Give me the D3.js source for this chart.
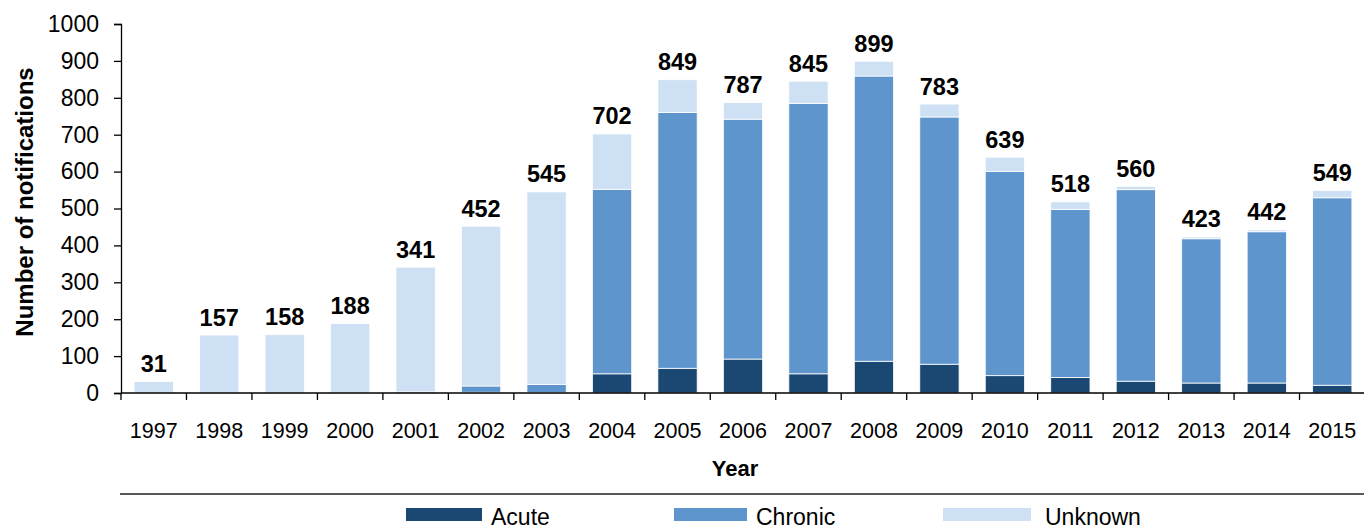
<!DOCTYPE html>
<html>
<head>
<meta charset="utf-8">
<script src="https://cdn.jsdelivr.net/npm/d3@7"></script>
<style>
  html, body { margin: 0; padding: 0; background: #fff; }
  svg { display: block; font-family: "Liberation Sans", Arial, sans-serif; }
</style>
</head>
<body>
<svg id="chart" width="1364" height="532"></svg>
<script>
// Notifications per year, split by case type
const years = ["1997","1998","1999","2000","2001","2002","2003","2004","2005","2006",
               "2007","2008","2009","2010","2011","2012","2013","2014","2015"];
const acute   = [0, 0, 0, 0, 3, 2, 1, 52, 67, 92, 52, 86, 78, 47, 42, 32, 27, 27, 21];
const chronic = [0, 0, 0, 0, 0, 17, 22, 500, 693, 650, 733, 773, 670, 553, 455, 519, 391, 410, 508];
const unknown = [31, 157, 158, 188, 338, 433, 522, 150, 89, 45, 60, 40, 35, 39, 21, 9, 5, 5, 20];
const totals  = [31, 157, 158, 188, 341, 452, 545, 702, 849, 787, 845, 899, 783, 639, 518, 560, 423, 442, 549];

const seriesNames = ["Acute", "Chronic", "Unknown"];
const yTicks = [0, 100, 200, 300, 400, 500, 600, 700, 800, 900, 1000];
const colors = { Acute: "#1b4872", Chronic: "#5f95cd", Unknown: "#cee0f4" };

const svg = d3.select("#chart");
const plot = { left: 121, right: 1365, top: 24, bottom: 393 };

const x = d3.scaleBand().domain(years).range([plot.left, plot.right])
  .paddingInner(0.4).paddingOuter(0.2);
const y = d3.scaleLinear().domain([0, 1000]).range([plot.bottom, plot.top]);

const rows = years.map((yr, i) => ({ year: yr, Acute: acute[i], Chronic: chronic[i], Unknown: unknown[i] }));
const stacked = d3.stack().keys(seriesNames)(rows);

// stacked bars
svg.append("g").selectAll("g").data(stacked).join("g")
  .attr("fill", d => colors[d.key])
  .selectAll("rect").data(d => d.filter(p => p[1] - p[0] > 0)).join("rect")
  .attr("x", d => x(d.data.year))
  .attr("width", x.bandwidth())
  .attr("y", d => y(d[1]))
  .attr("height", d => y(d[0]) - y(d[1]))
  .attr("stroke", "#ffffff")
  .attr("stroke-width", 0.8);

// total labels above each bar
svg.append("g").selectAll("text").data(years).join("text")
  .attr("x", d => x(d) + x.bandwidth() / 2)
  .attr("y", (d, i) => y(totals[i]) - 9.5)
  .attr("text-anchor", "middle")
  .attr("font-size", 23.5)
  .attr("font-weight", "bold")
  .attr("fill", "#000")
  .text((d, i) => totals[i]);

// y axis
const yAxis = svg.append("g").attr("transform", `translate(${plot.left},0)`)
  .call(d3.axisLeft(y).tickValues(yTicks).tickSize(7).tickPadding(15).tickFormat(d3.format("d")));
yAxis.select(".domain").attr("stroke", "#000").attr("stroke-width", 1.3);
yAxis.selectAll(".tick line").attr("stroke", "#000").attr("stroke-width", 1.3);
yAxis.selectAll(".tick text").attr("font-size", 23).attr("fill", "#000")
  .attr("font-family", "'Liberation Sans', Arial, sans-serif");

// x axis: baseline with ticks between the bands
const xAxisG = svg.append("g");
xAxisG.append("line")
  .attr("x1", plot.left).attr("x2", plot.right)
  .attr("y1", y(0)).attr("y2", y(0))
  .attr("stroke", "#000").attr("stroke-width", 1.3);
const boundaries = years.map(d => x(d) - x.step() * x.paddingInner() / 2);
xAxisG.selectAll("line.tk").data(boundaries).join("line").attr("class", "tk")
  .attr("x1", d => d).attr("x2", d => d)
  .attr("y1", y(0)).attr("y2", y(0) + 7)
  .attr("stroke", "#000").attr("stroke-width", 1.3);
xAxisG.selectAll("text").data(years).join("text")
  .attr("x", d => x(d) + x.bandwidth() / 2)
  .attr("y", 438)
  .attr("text-anchor", "middle")
  .attr("font-size", 21.5)
  .attr("fill", "#000")
  .text(d => d);

// axis titles
svg.append("text")
  .attr("transform", "translate(33,202) rotate(-90)")
  .attr("text-anchor", "middle")
  .attr("font-size", 24)
  .attr("font-weight", "bold")
  .text("Number of notifications");
svg.append("text")
  .attr("x", 735).attr("y", 476)
  .attr("text-anchor", "middle")
  .attr("font-size", 22)
  .attr("font-weight", "bold")
  .text("Year");

// legend separator and entries
svg.append("line")
  .attr("x1", 120).attr("x2", 1364).attr("y1", 494).attr("y2", 494)
  .attr("stroke", "#222").attr("stroke-width", 1.5);
const legendPos = [{ sx: 406, sw: 76, tx: 491 }, { sx: 674, sw: 73, tx: 756 }, { sx: 943, sw: 88, tx: 1045 }];
const legend = svg.append("g").selectAll("g").data(seriesNames).join("g");
legend.append("rect")
  .attr("x", (d, i) => legendPos[i].sx).attr("y", 508)
  .attr("width", (d, i) => legendPos[i].sw).attr("height", 13)
  .attr("fill", d => colors[d]);
legend.append("text")
  .attr("x", (d, i) => legendPos[i].tx).attr("y", 525)
  .attr("font-size", 23)
  .attr("fill", "#000")
  .text(d => d);
</script>
</body>
</html>
